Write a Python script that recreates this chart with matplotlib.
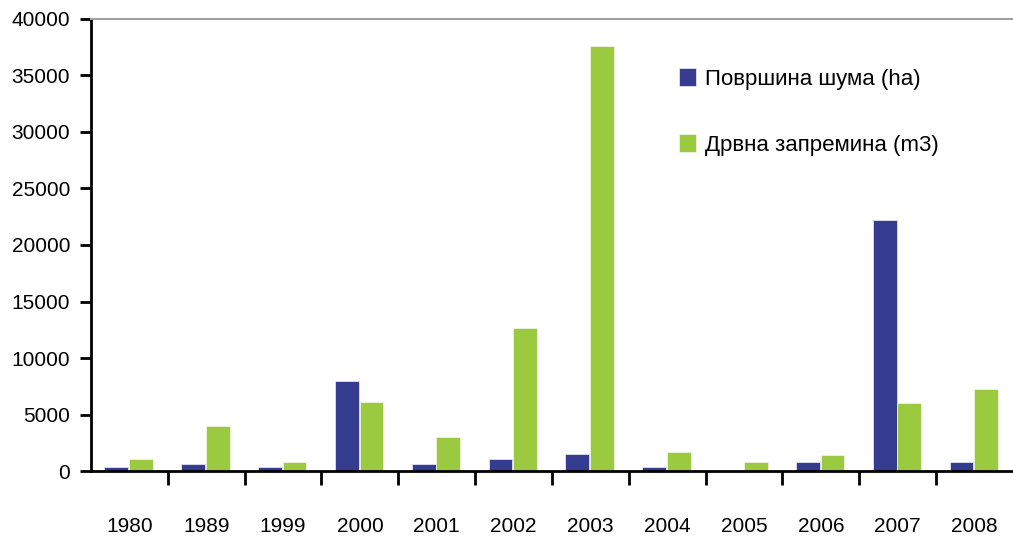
import matplotlib
matplotlib.use("Agg")
import matplotlib.pyplot as plt
import numpy as np
from matplotlib.ticker import FixedLocator

years = ["1980", "1989", "1999", "2000", "2001", "2002", "2003", "2004", "2005", "2006", "2007", "2008"]
area_ha = [400, 600, 400, 8000, 600, 1100, 1500, 400, 0, 800, 22200, 800]
volume_m3 = [1100, 4000, 800, 6100, 3000, 12700, 37600, 1700, 800, 1400, 6000, 7300]
series_names = ["Површина шума (ha)", "Дрвна запремина (m3)"]

plt.rcParams['font.family'] = ['Liberation Sans', 'DejaVu Sans']

fig = plt.figure(figsize=(10.13, 5.39), dpi=100)
ax = fig.add_axes([0.0898, 0.126, 0.9102, 0.839])

x = np.arange(len(years))
w = 0.31
ax.bar(x - 0.17, area_ha, w, color="#353b8e", edgecolor="#dfe3f0", linewidth=0.6, label=series_names[0])
ax.bar(x + 0.15, volume_m3, w, color="#9bc93f", edgecolor="#eef6dc", linewidth=0.6, label=series_names[1])

ax.set_xlim(-0.5, 11.5)
ax.set_ylim(0, 40000)
ax.set_yticks(np.arange(0, 40001, 5000))
ax.tick_params(axis='y', direction='out', length=8, width=2, labelsize=15, pad=7)

ax.set_xticks(x)
ax.set_xticklabels(years, fontsize=15)
ax.tick_params(axis='x', which='major', length=0, pad=33)
ax.xaxis.set_minor_locator(FixedLocator(np.arange(0.5, 11.5, 1.0)))
ax.tick_params(axis='x', which='minor', direction='out', length=10, width=2)

ax.spines['right'].set_visible(False)
ax.spines['top'].set_color('#a0a0a0')
ax.spines['top'].set_linewidth(1.5)
ax.spines['left'].set_linewidth(2)
ax.spines['bottom'].set_linewidth(2)

ax.legend(loc='upper left', bbox_to_anchor=(0.638, 0.892), frameon=False, fontsize=16,
          handlelength=0.75, handleheight=0.9, labelspacing=2.0, handletextpad=0.4,
          borderaxespad=0.0, borderpad=0.0)

fig.savefig("out.png", dpi=100)
